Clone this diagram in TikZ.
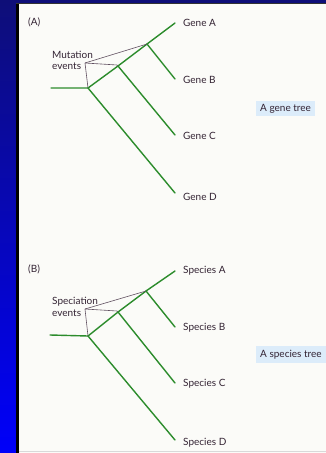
\documentclass[tikz,border=0pt]{standalone}
\usepackage{fontspec}
\setmainfont{Lato}
\definecolor{treegreen}{RGB}{44,140,44}
\definecolor{txt}{RGB}{52,36,52}
\definecolor{ptr}{RGB}{96,80,96}
\definecolor{boxblue}{RGB}{220,236,250}
\definecolor{navy}{RGB}{14,14,120}
\definecolor{brightblue}{RGB}{0,0,250}
\definecolor{paper}{RGB}{251,251,248}
\begin{document}
\begin{tikzpicture}[x=1pt,y=-1pt,
  branch/.style={draw=treegreen,line width=1.4pt,line cap=round},
  pointer/.style={draw=ptr,line width=0.6pt},
  leaf/.style={anchor=west,text=txt,font=\fontsize{10}{11}\selectfont,inner sep=0pt},
  lbl/.style={anchor=north west,text=txt,font=\fontsize{10}{11.5}\selectfont,inner sep=0pt,align=left},
  treelbl/.style={fill=boxblue,text=txt,font=\fontsize{10}{11}\selectfont,inner xsep=4pt,inner ysep=3.5pt,anchor=west}]
\useasboundingbox (0,0) rectangle (326,453);
% background
\fill[paper] (0,0) rectangle (326,453);
\shade[top color=navy,bottom color=brightblue] (0,0) rectangle (17,453);
\fill[navy] (0,0) rectangle (326,3);
\fill[black] (16,3) rectangle (19,453);
\fill[black!80] (16,3) rectangle (326,4);
\draw[black!15,line width=0.8pt] (19,451.5) -- (326,451.5);

% ---------- Panel A ----------
\node[lbl] (labA) at (28,18) {(A)};
\coordinate (aS) at (51,88);
\coordinate (aR) at (88,88);
\coordinate (aN2) at (118,66);
\coordinate (aN1) at (147,44);
\coordinate (aA) at (175,23);
\coordinate (aB) at (175,79);
\coordinate (aC) at (175,135);
\coordinate (aD) at (175,193);
\draw[branch] (aS) -- (aR) -- (aN2) -- (aN1) -- (aA);
\draw[branch] (aN1) -- (aB);
\draw[branch] (aN2) -- (aC);
\draw[branch] (aR) -- (aD);
\node[leaf] (gA) at (183,23) {Gene A};
\node[leaf] (gB) at (183,80) {Gene B};
\node[leaf] (gC) at (183,136) {Gene C};
\node[leaf] (gD) at (183,197) {Gene D};
\node[lbl] (mut) at (52,50.5) {Mutation\\events};
\coordinate (aP) at (85,63);
\draw[pointer] (aP) -- (aN1);
\draw[pointer] (aP) -- (117,65) -- (aN2);
\draw[pointer] (aP) -- (aR);
\node[treelbl] (gt) at (256,108.5) {A gene tree};

% ---------- Panel B ----------
\node[lbl] (labB) at (28,265) {(B)};
\coordinate (bS) at (50,335);
\coordinate (bR) at (88,336);
\coordinate (bN2) at (118,312);
\coordinate (bN1) at (146,291);
\coordinate (bA) at (175,271);
\coordinate (bB) at (175,327);
\coordinate (bC) at (175,383);
\coordinate (bD) at (175,440);
\draw[branch] (bS) -- (bR) -- (bN2) -- (bN1) -- (bA);
\draw[branch] (bN1) -- (bB);
\draw[branch] (bN2) -- (bC);
\draw[branch] (bR) -- (bD);
\node[leaf] (sA) at (183,271) {Species A};
\node[leaf] (sB) at (183,328) {Species B};
\node[leaf] (sC) at (183,384) {Species C};
\node[leaf] (sD) at (183,443) {Species D};
\node[lbl] (spec) at (52,297) {Speciation\\events};
\coordinate (bP) at (85,309);
\draw[pointer] (bP) -- (bN1);
\draw[pointer] (bP) -- (117,311) -- (bN2);
\draw[pointer] (bP) -- (bR);
\node[treelbl] (st) at (256,354.5) {A species tree};
\end{tikzpicture}
\end{document}
